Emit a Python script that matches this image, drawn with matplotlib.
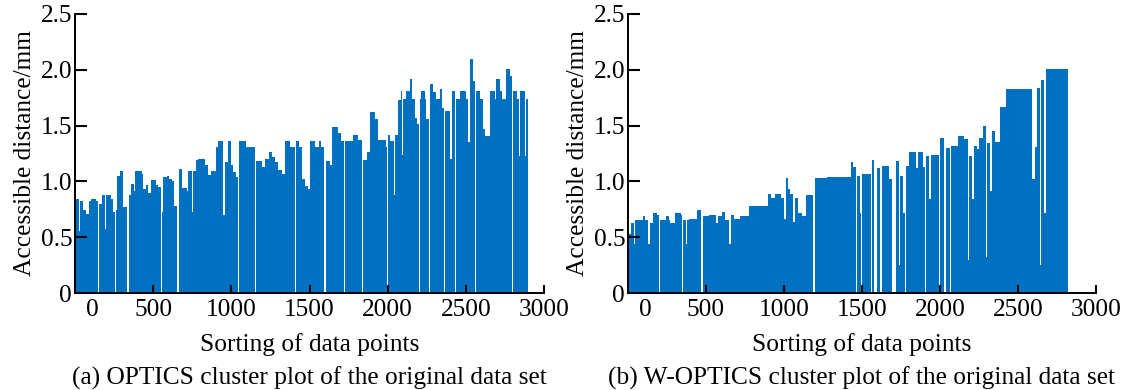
import matplotlib
matplotlib.use("Agg")
import matplotlib.pyplot as plt
import numpy as np

plt.rcParams['font.family'] = ['Liberation Serif', 'DejaVu Serif']

# ---- data: step segments (start index of each run, reachability height) ----
# (a) OPTICS
a_starts = [0, 28, 32, 49, 70, 92, 100, 134, 145, 151, 170, 192, 198, 228, 245, 253, 260, 270,
            288, 309, 332, 343, 356, 377, 383, 426, 437, 452, 469, 484, 518, 532, 547, 554,
            564, 586, 603, 620, 633, 652, 665, 682, 714, 724, 746, 756, 777, 788, 831, 852,
            867, 873, 905, 916, 944, 959, 976, 995, 1012, 1027, 1042, 1050, 1097, 1152, 1159,
            1193, 1214, 1225, 1231, 1242, 1263, 1280, 1301, 1323, 1342, 1378, 1406, 1412,
            1434, 1451, 1470, 1491, 1502, 1534, 1561, 1576, 1595, 1604, 1634, 1647, 1683,
            1700, 1719, 1725, 1779, 1811, 1836, 1843, 1868, 1885, 1917, 1938, 1987, 1996,
            2002, 2013, 2038, 2045, 2066, 2087, 2094, 2100, 2119, 2141, 2158, 2173, 2188,
            2198, 2205, 2215, 2237, 2247, 2262, 2269, 2290, 2307, 2332, 2349, 2362, 2369,
            2396, 2413, 2433, 2439, 2460, 2499, 2513, 2528, 2545, 2560, 2567, 2588, 2609,
            2620, 2656, 2684, 2695, 2716, 2733, 2754, 2780, 2795, 2801, 2827, 2839, 2848,
            2876, 2882]
a_end = 2897
a_heights = [0.84, 0.56, 0.82, 0.74, 0.71, 0.82, 0.84, 0.82, 0.0, 0.80, 0.88, 0.57, 0.88, 0.84,
             0.73, 0.0, 0.74, 1.05, 1.09, 0.77, 0.0, 0.88, 0.98, 0.91, 1.09, 1.07, 0.93, 0.97,
             0.90, 1.01, 0.97, 0.95, 0.0, 0.73, 1.04, 1.05, 1.02, 1.00, 0.78, 0.0, 1.11, 0.94,
             0.91, 1.09, 0.73, 1.09, 1.19, 1.20, 1.15, 1.06, 0.74, 1.09, 1.31, 1.36, 0.70,
             1.17, 1.36, 1.15, 1.08, 1.04, 0.0, 1.36, 1.31, 0.0, 1.18, 1.13, 1.20, 0.82, 1.20,
             1.26, 1.22, 1.17, 1.10, 1.07, 1.36, 1.31, 0.0, 1.36, 1.31, 1.02, 0.96, 0.93, 1.36,
             1.31, 1.36, 1.31, 0.0, 1.18, 1.15, 1.49, 1.43, 1.36, 0.0, 1.36, 1.42, 1.37, 0.0,
             1.19, 1.26, 1.62, 1.56, 1.37, 1.31, 0.0, 1.42, 1.36, 0.88, 1.42, 1.73, 1.81, 1.24,
             1.74, 1.81, 1.92, 1.74, 1.57, 1.51, 0.0, 1.74, 1.81, 1.74, 1.56, 0.0, 1.87, 1.80,
             1.74, 1.83, 1.66, 0.0, 1.63, 1.20, 1.81, 0.0, 1.74, 1.81, 1.74, 1.35, 2.10, 1.90,
             0.0, 1.81, 1.74, 1.47, 1.41, 1.81, 1.74, 1.92, 1.81, 1.74, 2.01, 1.94, 0.0, 1.81,
             1.74, 1.23, 1.81, 1.23, 1.74]

# (b) W-OPTICS
b_starts = [0, 21, 40, 47, 96, 111, 130, 138, 160, 185, 200, 206, 245, 260, 270, 302, 338, 349,
            355, 372, 381, 394, 445, 470, 483, 521, 564, 579, 602, 621, 649, 658, 679, 717,
            777, 898, 919, 941, 983, 998, 1015, 1028, 1041, 1058, 1070, 1092, 1113, 1138, 1185,
            1196, 1277, 1428, 1443, 1460, 1466, 1487, 1496, 1502, 1556, 1562, 1577, 1594, 1615,
            1630, 1673, 1690, 1715, 1736, 1743, 1762, 1773, 1779, 1800, 1849, 1856, 1892, 1907,
            1913, 1928, 1943, 1994, 2002, 2024, 2041, 2062, 2073, 2113, 2156, 2177, 2185, 2207,
            2219, 2236, 2253, 2275, 2292, 2300, 2322, 2336, 2353, 2385, 2424, 2588, 2609, 2624,
            2641, 2647, 2666, 2679]
b_end = 2822
b_heights = [0.53, 0.63, 0.44, 0.65, 0.69, 0.65, 0.44, 0.63, 0.72, 0.70, 0.0, 0.65, 0.69, 0.65,
             0.63, 0.72, 0.70, 0.0, 0.65, 0.44, 0.65, 0.66, 0.74, 0.0, 0.69, 0.70, 0.63, 0.69,
             0.73, 0.65, 0.44, 0.70, 0.66, 0.69, 0.78, 0.89, 0.85, 0.89, 0.85, 0.66, 1.03, 0.93,
             0.89, 0.64, 0.85, 0.72, 0.69, 0.88, 0.0, 1.03, 1.04, 1.17, 1.13, 0.0, 1.05, 0.72,
             0.0, 1.07, 0.0, 1.19, 0.0, 1.12, 0.0, 1.14, 1.02, 0.0, 1.18, 0.25, 1.05, 0.72, 0.0,
             1.14, 1.26, 1.12, 1.26, 1.13, 0.0, 1.23, 0.84, 1.24, 0.0, 1.39, 0.0, 1.30, 0.0, 1.32,
             1.41, 1.38, 0.30, 1.23, 0.84, 1.32, 1.29, 1.39, 1.50, 0.32, 1.34, 0.91, 1.45, 1.35,
             1.67, 1.83, 1.02, 1.31, 1.84, 0.25, 1.91, 0.72, 2.01]

x_ticks = [500, 1000, 1500, 2000, 2500, 3000]
y_ticks = [0, 0.5, 1.0, 1.5, 2.0, 2.5]
y_ticklabels = ['0', '0.5', '1.0', '1.5', '2.0', '2.5']
xlabel = 'Sorting of data points'
ylabel = 'Accessible distance/mm'
captions = ['(a) OPTICS cluster plot of the original data set',
            '(b) W-OPTICS cluster plot of the original data set']

BAR = '#0070C0'
FS = 18.3
XPAD = 4.5

fig = plt.figure(figsize=(11.3, 3.9), dpi=100)
ax_a = fig.add_axes([75 / 1130, 1 - 293 / 390, 469 / 1130, 279 / 390])
ax_b = fig.add_axes([628 / 1130, 1 - 293 / 390, 468 / 1130, 279 / 390])

panels = [(ax_a, a_starts, a_end, a_heights), (ax_b, b_starts, b_end, b_heights)]
for i, (ax, starts, end, heights) in enumerate(panels):
    edges = np.array(list(starts) + [end], dtype=float)
    ax.stairs(heights, edges, fill=True, color=BAR, linewidth=0)
    ax.set_xlim(0, 3000)
    ax.set_ylim(0, 2.5)
    ax.set_xticks(x_ticks)
    ax.set_xticklabels([str(t) for t in x_ticks], fontsize=FS)
    ax.set_yticks(y_ticks)
    ax.set_yticklabels(y_ticklabels, fontsize=FS)
    for s in ['top', 'right']:
        ax.spines[s].set_visible(False)
    for s in ['left', 'bottom']:
        ax.spines[s].set_linewidth(1.4)
        ax.spines[s].set_zorder(5)
    ax.tick_params(axis='x', direction='in', length=5.5, width=1.5, pad=XPAD)
    ax.tick_params(axis='y', direction='in', length=8.5, width=1.5, pad=2)
    # the "0" label of the x axis sits slightly right of the origin
    ax.annotate('0', xy=(110, 0), xycoords=('data', 'axes fraction'),
                xytext=(0, -XPAD), textcoords='offset points',
                ha='center', va='top', fontsize=FS)
    ax.set_ylabel(ylabel, fontsize=FS, labelpad=3)
    cx = (ax.get_position().x0 + ax.get_position().x1) / 2
    fig.text(cx, 1 - 345 / 390, xlabel, ha='center', va='center', fontsize=FS)
    fig.text(cx, 1 - 378 / 390, captions[i], ha='center', va='center', fontsize=FS)

fig.savefig('out.png', dpi=100)
